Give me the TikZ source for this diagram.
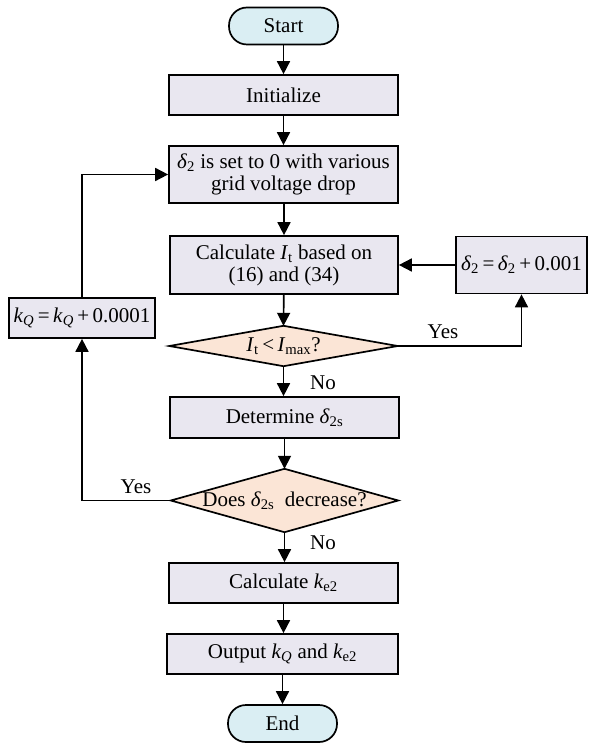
\documentclass[tikz,border=0pt]{standalone}
\usepackage{fontspec}
\setmainfont{Liberation Serif}
\usetikzlibrary{arrows.meta,backgrounds}
\definecolor{boxfill}{HTML}{E9E7F0}
\definecolor{termfill}{HTML}{DAEEF3}
\definecolor{diafill}{HTML}{FBE5D6}
\newcommand\dl{\textit{δ}}
\newcommand\sbs[1]{\textsubscript{#1}}
\begin{document}
\begin{tikzpicture}[x=1pt,y=-1pt,
  font=\fontsize{21}{24}\selectfont,
  every node/.style={inner sep=0pt, align=center},
  procbox/.style={draw=black, line width=1.7pt, fill=boxfill, rectangle},
  termbox/.style={draw=black, line width=1.7pt, fill=termfill, rectangle, rounded corners=18pt, minimum width=109pt, minimum height=37pt},
  diabox/.style={rectangle},
  flow/.style={line width=1.7pt, -{Triangle[length=13pt,width=13pt]}},
  plain/.style={line width=1.7pt}]
\useasboundingbox (0,0) rectangle (588,743);
% nodes
\node[termbox] (start) at (283.5,26) {Start};
\node[procbox, minimum width=229pt, minimum height=40pt] (init) at (283.5,95) {Initialize};
\node[procbox, minimum width=229pt, minimum height=57pt] (set) at (283.5,174.5) {\dl\sbs{2} is set to 0 with various\\[-2pt] grid voltage drop};
\node[procbox, minimum width=228pt, minimum height=58pt] (calc) at (284,265) {Calculate \textit{I}\sbs{t} based on\\[-2pt] (16) and (34)};
\node[procbox, minimum width=131pt, minimum height=57pt] (inc) at (521.5,265) {\dl\sbs{2}\,=\,\dl\sbs{2}\,+\,0.001};
\node[procbox, minimum width=146pt, minimum height=40pt] (kq) at (82,318) {\textit{k}\sbs{\textit{Q}}\,=\,\textit{k}\sbs{\textit{Q}}\,+\,0.0001};
\node[diabox, minimum width=228pt, minimum height=40pt] (d1) at (283.5,346) {\textit{I}\sbs{t}\,<\,\textit{I}\sbs{max}?};
\node[procbox, minimum width=229pt, minimum height=41pt] (det) at (284.5,417.5) {Determine \dl\sbs{2s}};
\node[diabox, minimum width=227pt, minimum height=63pt] (d2) at (284.5,500.5) {Does \dl\sbs{2s}\ \ decrease?};
\node[procbox, minimum width=229pt, minimum height=40pt] (ke) at (283.5,583) {Calculate \textit{k}\sbs{e2}};
\node[procbox, minimum width=231pt, minimum height=40pt] (out) at (282.5,654) {Output \textit{k}\sbs{\textit{Q}} and \textit{k}\sbs{e2}};
\node[termbox] (end) at (282.5,723.5) {End};
% diamonds
\begin{scope}[on background layer]
\draw[line width=1.7pt, fill=diafill, line join=miter] (d1.west)--(d1.north)--(d1.east)--(d1.south)--cycle;
\draw[line width=1.7pt, fill=diafill, line join=miter] (d2.west)--(d2.north)--(d2.east)--(d2.south)--cycle;
\end{scope}
% connectors
\draw[flow] (start) -- (init);
\draw[flow] (init) -- (set);
\draw[flow] (set.south -| calc.north) -- (calc);
\draw[flow] (calc) -- (d1.north);
\draw[flow] (d1.south) -- (det.north -| d1.south);
\draw[flow] (det) -- (d2.north);
\draw[flow] (d2.south) -- (ke.north -| d2.south);
\draw[flow] (ke) -- (out.north -| ke.south);
\draw[flow] (out) -- (end);
\draw[flow] (d1.east) -| (inc.south);
\draw[flow] (inc) -- (calc);
\draw[flow] (d2.west) -| (kq.south);
\draw[flow] (kq.north) |- (set.west);
% labels
\node (yes1) at (443,332) {Yes};
\node (no1) at (323,383) {No};
\node (yes2) at (136,487) {Yes};
\node (no2) at (323,543) {No};
\end{tikzpicture}
\end{document}
